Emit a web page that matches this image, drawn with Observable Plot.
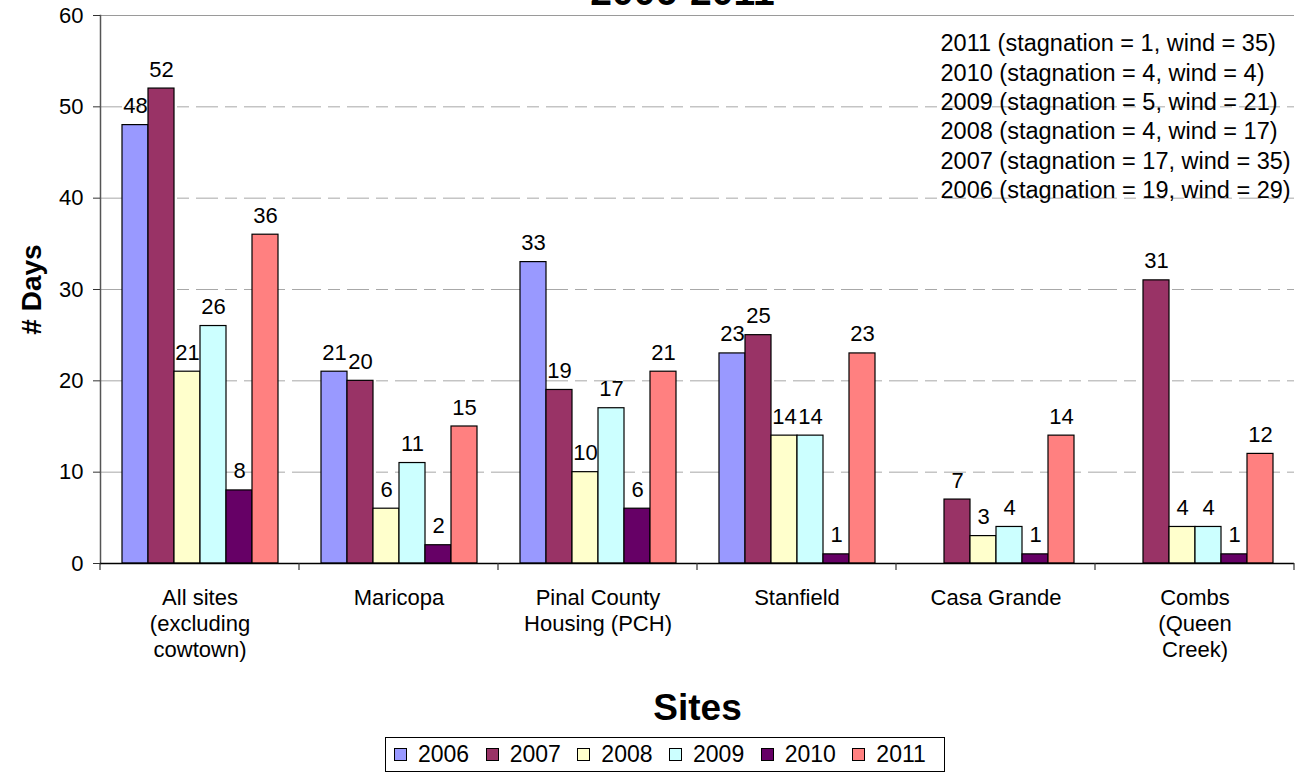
<!DOCTYPE html>
<html>
<head>
<meta charset="utf-8">
<script src="https://cdn.jsdelivr.net/npm/d3@7"></script>
<script src="https://cdn.jsdelivr.net/npm/@observablehq/plot@0.6"></script>
<style>
  html, body { margin: 0; padding: 0; background: #fff; }
  body { width: 1295px; height: 776px; position: relative; overflow: hidden; font-family: "Liberation Sans", Arial, sans-serif; }
  #legend { position: absolute; left: 385px; top: 737px; width: 560px; height: 35px; border: 1px solid #000; box-sizing: border-box; display: flex; align-items: center; padding-left: 8px; background: #fff; }
  .item { width: 94px; display: flex; align-items: center; font-size: 23px; color: #000; }
  .sw { width: 11px; height: 11px; border: 1px solid #000; margin-right: 11px; flex: none; }
</style>
</head>
<body>
<div id="chart"></div>
<div id="legend"></div>
<script>
const sites = [
  "All sites\n(excluding\ncowtown)",
  "Maricopa",
  "Pinal County\nHousing (PCH)",
  "Stanfield",
  "Casa Grande",
  "Combs\n(Queen\nCreek)"
];
const years = ["2006", "2007", "2008", "2009", "2010", "2011"];
const colors = ["#9999FF", "#993366", "#FFFFCC", "#CCFFFF", "#660066", "#FF8080"];
const v2006 = [48, 21, 33, 23, null, null];
const v2007 = [52, 20, 19, 25, 7, 31];
const v2008 = [21, 6, 10, 14, 3, 4];
const v2009 = [26, 11, 17, 14, 4, 4];
const v2010 = [8, 2, 6, 1, 1, 1];
const v2011 = [36, 15, 21, 23, 14, 12];
const yTicks = [0, 10, 20, 30, 40, 50, 60];
const notes = [
  "2011 (stagnation = 1, wind = 35)",
  "2010 (stagnation = 4, wind = 4)",
  "2009 (stagnation = 5, wind = 21)",
  "2008 (stagnation = 4, wind = 17)",
  "2007 (stagnation = 17, wind = 35)",
  "2006 (stagnation = 19, wind = 29)"
];
const title = "2006-2011";
const xTitle = "Sites";
const yTitle = "# Days";

const series = [v2006, v2007, v2008, v2009, v2010, v2011];
const rows = [];
sites.forEach((s, i) => years.forEach((y, j) => {
  const v = series[j][i];
  if (v != null) rows.push({site: s, year: y, value: v});
}));

// tick marks at the boundaries between site groups (uses the fx band scale)
function boundaryTicks(index, scales, values, dimensions) {
  const {width, height, marginLeft, marginRight, marginBottom} = dimensions;
  const y0 = height - marginBottom;
  const g = d3.create("svg:g");
  let xs;
  if (scales && scales.fx && typeof scales.fx === "function") {
    xs = sites.map(s => scales.fx(s));
    xs.push(width - marginRight);
  } else {
    const step = (width - marginLeft - marginRight) / sites.length;
    xs = d3.range(sites.length + 1).map(i => marginLeft + i * step);
  }
  g.selectAll("line").data(xs).join("line")
    .attr("x1", d => d).attr("x2", d => d)
    .attr("y1", y0).attr("y2", y0 + 7)
    .attr("stroke", "#333").attr("stroke-width", 1.2);
  return g.node();
}

const chart = Plot.plot({
  width: 1295,
  height: 735,
  marginTop: 15,
  marginLeft: 98,
  marginRight: 0,
  marginBottom: 172,
  style: {fontFamily: "'Liberation Sans', Arial, sans-serif", fontSize: "22px", background: "#fff", color: "#000", overflow: "visible"},
  fx: {domain: sites, padding: 0, axis: null, label: null},
  x: {domain: years, paddingInner: 0, paddingOuter: 0.73, axis: null},
  y: {domain: [0, 60], axis: null},
  color: {domain: years, range: colors},
  marks: [
    Plot.ruleY(yTicks.filter(d => d > 0 && d < 60), {stroke: "#a8a8a8", strokeWidth: 1, strokeDasharray: "22,7,12,7"}),
    Plot.ruleY([60], {stroke: "#9a9a9a", strokeWidth: 1.2}),
    Plot.barY(rows, {fx: "site", x: "year", y: "value", fill: "year", stroke: "#000", strokeWidth: 1.2}),
    Plot.text(rows, {fx: "site", x: "year", y: "value", text: d => String(d.value), dy: -19, fontSize: 22, fill: "#000"}),
    Plot.frame({facet: "super", anchor: "left", stroke: "#555", strokeWidth: 1.5}),
    Plot.ruleY([0], {stroke: "#000", strokeWidth: 1.5}),
    Plot.axisY({ticks: yTicks, tickSize: 7, tickPadding: 10, fontSize: 22, label: null, stroke: "#333"}),
    Plot.axisFx({domain: sites, anchor: "bottom", tickSize: 0, tickPadding: 23, fontSize: 22, lineHeight: 1.18, label: null, lineAnchor: "top"}),
    Plot.frame({facet: "super", render: boundaryTicks}),
    Plot.text([notes.join("\n")], {facet: "super", frameAnchor: "top-left", dx: 840, dy: 15, lineAnchor: "top", textAnchor: "start", lineHeight: 1.25, fontSize: 23.5, fill: "#000"}),
    Plot.text([yTitle], {facet: "super", frameAnchor: "left", textAnchor: "middle", rotate: -90, dx: -68, fontSize: 28, fontWeight: "bold", fill: "#000"}),
    Plot.text([xTitle], {facet: "super", frameAnchor: "bottom", dy: 156, fontSize: 37, fontWeight: "bold", fill: "#000"}),
    Plot.text([title], {facet: "super", frameAnchor: "top", dx: -15, dy: -11, lineAnchor: "bottom", fontSize: 39, fontWeight: "bold", fill: "#000"})
  ]
});
document.getElementById("chart").appendChild(chart);

const legend = d3.select("#legend");
years.forEach((y, i) => {
  const it = legend.append("div").attr("class", "item");
  it.append("div").attr("class", "sw").style("background", colors[i]);
  it.append("span").text(y);
});
</script>
</body>
</html>
